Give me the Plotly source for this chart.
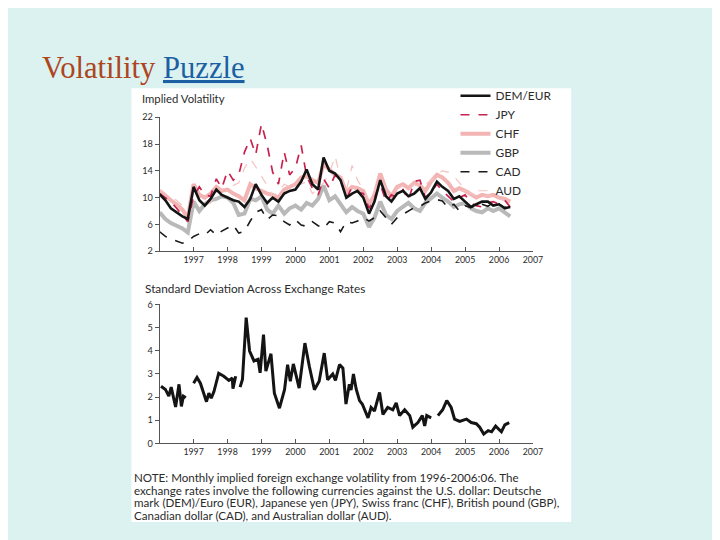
import plotly.graph_objects as go

# ---------------- data ----------------
years = [1996.00, 1996.17, 1996.33, 1996.50, 1996.67, 1996.83,
         1997.00, 1997.17, 1997.33, 1997.50, 1997.67, 1997.83,
         1998.00, 1998.17, 1998.33, 1998.50, 1998.67, 1998.83,
         1999.00, 1999.17, 1999.33, 1999.50, 1999.67, 1999.83,
         2000.00, 2000.17, 2000.33, 2000.50, 2000.67, 2000.83,
         2001.00, 2001.17, 2001.33, 2001.50, 2001.67, 2001.83,
         2002.00, 2002.17, 2002.33, 2002.50, 2002.67, 2002.83,
         2003.00, 2003.17, 2003.33, 2003.50, 2003.67, 2003.83,
         2004.00, 2004.17, 2004.33, 2004.50, 2004.67, 2004.83,
         2005.00, 2005.17, 2005.33, 2005.50, 2005.67, 2005.83,
         2006.00, 2006.17, 2006.33]

dem_eur = [10.5, 9.6, 8.4, 7.8, 7.2, 6.8, 11.6, 9.6, 8.8, 9.8, 11.2, 10.4,
           10.0, 9.6, 9.4, 8.6, 9.8, 12.0, 10.4, 9.2, 10.0, 9.4, 10.6, 11.0,
           11.2, 12.4, 14.2, 12.0, 11.2, 16.0, 14.0, 13.6, 12.6, 10.0, 10.6, 11.0,
           10.0, 7.6, 9.4, 12.6, 10.2, 9.4, 10.6, 11.0, 10.2, 10.6, 11.4, 9.8,
           10.8, 12.4, 11.6, 11.0, 9.8, 10.2, 9.4, 8.6, 9.0, 9.4, 9.4, 8.8,
           9.0, 8.4, 8.6]

jpy = [10.6, 10.0, 9.4, 8.4, 7.4, 6.4, 10.2, 11.6, 10.4, 10.2, 12.8, 11.4,
       14.0, 12.6, 13.4, 16.8, 18.8, 16.4, 21.0, 17.8, 13.8, 12.0, 16.8, 13.4,
       14.4, 17.8, 13.2, 11.4, 10.4, 12.8, 11.4, 13.4, 12.8, 9.8, 11.6, 10.8,
       10.6, 8.4, 10.0, 12.0, 9.4, 10.4, 10.0, 11.2, 9.6, 12.4, 12.6, 10.0,
       10.8, 12.0, 11.0, 10.2, 9.4, 10.0, 10.4, 9.2, 8.8, 8.6, 9.2, 9.4,
       9.0, 9.6, 8.6]

chf = [11.0, 10.2, 9.6, 9.0, 8.2, 7.0, 12.0, 10.4, 10.0, 10.6, 11.6, 11.0,
       11.2, 10.6, 10.2, 9.6, 12.0, 11.4, 11.0, 10.6, 10.4, 10.0, 11.2, 11.6,
       12.0, 13.0, 13.2, 12.6, 12.2, 15.0, 14.2, 13.4, 13.0, 10.8, 11.6, 11.4,
       11.0, 9.0, 10.4, 13.6, 11.2, 10.2, 11.6, 12.0, 11.4, 12.2, 11.8, 11.0,
       12.4, 13.4, 13.0, 12.2, 11.0, 11.4, 11.0, 10.4, 10.0, 10.4, 10.2, 10.4,
       10.0, 9.8, 9.4]

gbp = [7.8, 6.8, 6.2, 5.8, 5.4, 4.8, 9.4, 8.0, 9.0, 9.6, 9.8, 10.2,
       10.0, 9.2, 7.4, 7.6, 9.8, 9.6, 10.2, 8.2, 7.6, 8.8, 7.6, 8.4,
       8.8, 8.2, 9.2, 8.8, 9.8, 11.8, 9.6, 10.2, 9.0, 7.8, 8.6, 8.0,
       7.6, 5.6, 7.0, 9.4, 7.4, 6.8, 8.0, 8.6, 9.2, 8.4, 8.0, 9.2,
       10.0, 10.6, 10.0, 9.4, 8.6, 9.0, 9.2, 8.4, 8.0, 7.8, 8.4, 8.0,
       8.4, 7.8, 7.2]

cad = [4.9, 4.2, 3.8, 3.5, 3.2, 3.5, 4.2, 4.6, 4.4, 5.2, 4.4, 5.0,
       5.4, 5.9, 4.7, 5.0, 6.5, 7.8, 8.2, 6.7, 7.4, 7.3, 6.4, 5.9,
       6.7, 5.9, 5.7, 6.4, 5.8, 5.4, 6.4, 6.2, 4.9, 6.4, 6.2, 6.5,
       7.0, 6.5, 7.0, 8.0, 7.0, 6.0, 7.0, 7.5, 8.0, 8.5, 8.7, 9.2,
       9.5, 9.7, 9.5, 8.5, 9.0, 8.0, 8.8, 8.5, 8.8, 9.0, 8.7, 9.2,
       9.0, 8.5, 8.8]

aud = [11.2, 10.6, 10.0, 9.6, 8.8, 8.0, 11.0, 10.2, 9.4, 9.2, 10.8, 11.2,
       11.6, 11.8, 12.2, 14.4, 15.8, 14.6, 13.2, 11.8, 10.2, 11.0, 12.0, 11.6,
       12.2, 12.0, 12.4, 10.6, 11.4, 12.2, 13.6, 16.2, 12.8, 11.0, 14.8, 12.6,
       11.2, 9.4, 11.0, 12.6, 11.4, 11.0, 11.2, 11.8, 11.4, 12.0, 11.6, 12.0,
       12.6, 13.4, 14.0, 13.8, 13.2, 12.2, 11.2, 10.6, 10.2, 10.0, 10.4, 10.0,
       9.8, 9.6, 9.2]

sd_years = [1996.04, 1996.17, 1996.27, 1996.34, 1996.47, 1996.57, 1996.64, 1996.70, 1996.77,
            1996.88,
            1997.00, 1997.10, 1997.20, 1997.38, 1997.45, 1997.52, 1997.60, 1997.74, 1997.89,
            1998.04, 1998.14, 1998.16, 1998.24,
            1998.30,
            1998.37, 1998.44, 1998.55, 1998.65, 1998.78, 1998.90, 1998.96, 1999.06, 1999.13,
            1999.28, 1999.38, 1999.53, 1999.68, 1999.77, 1999.85, 1999.94, 2000.11, 2000.28,
            2000.41, 2000.56, 2000.70, 2000.85, 2000.95, 2001.10, 2001.18, 2001.30, 2001.40,
            2001.49, 2001.59, 2001.64, 2001.71, 2001.79, 2001.89, 2001.97, 2002.14, 2002.23,
            2002.33, 2002.48, 2002.58, 2002.72, 2002.87, 2002.97, 2003.07, 2003.22, 2003.37,
            2003.46, 2003.61, 2003.74, 2003.81, 2003.87, 2004.00,
            2004.10,
            2004.20, 2004.34, 2004.46, 2004.59, 2004.69, 2004.84, 2005.04, 2005.18, 2005.33,
            2005.43, 2005.55, 2005.68, 2005.78, 2005.90, 2006.00, 2006.07, 2006.17, 2006.30]

sd_values = [2.47, 2.33, 2.04, 2.43, 1.57, 2.55, 1.60, 2.04, 1.97,
             None,
             2.60, 2.85, 2.60, 1.80, 2.17, 1.95, 2.24, 3.03, 2.90,
             2.72, 2.82, 2.36, 2.90,
             None,
             2.43, 2.76, 5.43, 3.99, 3.56, 3.63, 3.05, 4.70, 3.12,
             3.87, 2.17, 1.52, 2.32, 3.40, 2.68, 3.43, 2.39, 4.33,
             3.33, 2.32, 2.68, 3.90, 2.75, 3.00, 2.72, 3.40, 3.25,
             1.70, 2.55, 2.30, 3.00, 2.35, 1.85, 1.70, 1.10, 1.55,
             1.40, 2.20, 1.25, 1.55, 1.45, 1.75, 1.20, 1.45, 1.20,
             0.70, 0.90, 1.20, 0.75, 1.20, 1.10,
             None,
             1.20, 1.45, 1.85, 1.55, 1.05, 0.95, 1.05, 0.90, 0.85,
             0.70, 0.40, 0.55, 0.50, 0.75, 0.60, 0.50, 0.80, 0.90]

year_ticks = [1997, 1998, 1999, 2000, 2001, 2002, 2003, 2004, 2005, 2006, 2007]
top_ticks = [2, 6, 10, 14, 18, 22]
bottom_ticks = [0, 1, 2, 3, 4, 5, 6]

note_lines = [
    "NOTE: Monthly implied foreign exchange volatility from 1996-2006:06. The",
    "exchange rates involve the following currencies against the U.S. dollar: Deutsche",
    "mark (DEM)/Euro (EUR), Japanese yen (JPY), Swiss franc (CHF), British pound (GBP),",
    "Canadian dollar (CAD), and Australian dollar (AUD).",
]

# ---------------- figure ----------------
W, H = 720, 540
# the photographed page is slightly scaled and offset; map target pixel
# positions of the picture onto figure paper fractions
S, OX, OY = 0.98, 10.5, 13.0


def px(x):
    return (x / S - OX) / W


def py(y):
    return 1 - (y / S - OY) / H


FONT = "Lato"
TXT = "#2b2b2b"

fig = go.Figure()

fig.add_trace(go.Scatter(x=years, y=gbp, name="GBP", mode="lines", legendrank=4,
                         line=dict(color="#b9b9b9", width=4)))
fig.add_trace(go.Scatter(x=years, y=chf, name="CHF", mode="lines", legendrank=3,
                         line=dict(color="#f3b4b4", width=4)))
fig.add_trace(go.Scatter(x=years, y=aud, name="AUD", mode="lines", legendrank=6,
                         line=dict(color="#f4c2c2", width=1.2, dash="dash")))
fig.add_trace(go.Scatter(x=years, y=cad, name="CAD", mode="lines", legendrank=5,
                         line=dict(color="#1a1a1a", width=1.6, dash="dash")))
fig.add_trace(go.Scatter(x=years, y=jpy, name="JPY", mode="lines", legendrank=2,
                         line=dict(color="#c8234f", width=1.7, dash="dash")))
fig.add_trace(go.Scatter(x=years, y=dem_eur, name="DEM/EUR", mode="lines", legendrank=1,
                         line=dict(color="#141414", width=2.6)))

fig.add_trace(go.Scatter(x=sd_years, y=sd_values, mode="lines", showlegend=False,
                         connectgaps=False, xaxis="x2", yaxis="y2",
                         line=dict(color="#141414", width=3)))

xdom = [px(161), px(532)]
common_x = dict(range=[1996, 2007], tickvals=year_ticks, ticks="inside", ticklen=4,
                tickcolor="#555", showline=True, linecolor="#555", linewidth=1,
                showgrid=False, zeroline=False, domain=xdom,
                tickfont=dict(family=FONT, size=8.8, color=TXT))
common_y = dict(ticks="outside", ticklen=4, tickcolor="#555", showline=True,
                linecolor="#555", linewidth=1, showgrid=False, zeroline=False,
                tickfont=dict(family=FONT, size=9.2, color=TXT))

fig.update_layout(
    width=W, height=H,
    margin=dict(l=0, r=0, t=0, b=0),
    paper_bgcolor="#dbf2f0",
    plot_bgcolor="rgba(0,0,0,0)",
    xaxis=dict(common_x, anchor="y"),
    yaxis=dict(common_y, range=[2, 22], tickvals=top_ticks, anchor="x",
               domain=[py(250), py(116)]),
    xaxis2=dict(common_x, anchor="y2"),
    yaxis2=dict(common_y, range=[0, 6], tickvals=bottom_ticks, anchor="x2",
                domain=[py(442.3), py(303.3)]),
    legend=dict(x=px(455), y=py(80), xanchor="left", yanchor="top",
                bgcolor="rgba(0,0,0,0)", font=dict(family=FONT, size=11.9, color=TXT),
                tracegroupgap=0, itemwidth=30),
    showlegend=True,
)

# white picture panel
fig.add_shape(type="rect", xref="paper", yref="paper", layer="below",
              x0=px(133), x1=px(570), y0=py(521), y1=py(87),
              fillcolor="white", line=dict(width=0))

# slide title
fig.add_annotation(xref="paper", yref="paper", x=px(42), y=py(67),
                   xanchor="left", yanchor="middle", showarrow=False,
                   text="<span style='color:#ad451d'>Volatility</span> "
                        "<span style='color:#1d5fa3'><u>Puzzle</u></span>",
                   font=dict(family="Liberation Serif", size=30.6))

# panel titles
fig.add_annotation(xref="paper", yref="paper", x=px(141), y=py(97),
                   xanchor="left", yanchor="middle", showarrow=False,
                   text="Implied Volatility",
                   font=dict(family=FONT, size=11.3, color=TXT))
fig.add_annotation(xref="paper", yref="paper", x=px(144), y=py(287),
                   xanchor="left", yanchor="middle", showarrow=False,
                   text="Standard Deviation Across Exchange Rates",
                   font=dict(family=FONT, size=11.8, color=TXT))

# note, one annotation per line to keep the tight line spacing
for line_text, yc in zip(note_lines, [476.7, 489.3, 501.7, 514.0]):
    fig.add_annotation(xref="paper", yref="paper", x=px(134), y=py(yc),
                       xanchor="left", yanchor="middle", align="left", showarrow=False,
                       text=line_text, font=dict(family=FONT, size=11.6, color=TXT))

fig.write_html("out.html")
